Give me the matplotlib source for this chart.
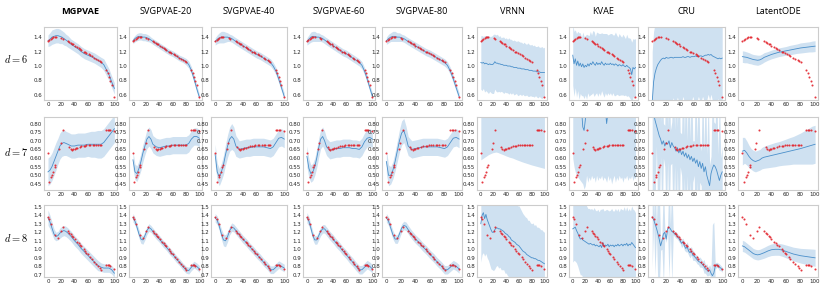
import matplotlib
matplotlib.use("Agg")
import matplotlib.pyplot as plt
import numpy as np

plt.rcParams['mathtext.fontset'] = 'cm'

# ---------------- data ----------------
models = ["MGPVAE", "SVGPVAE-20", "SVGPVAE-40", "SVGPVAE-60", "SVGPVAE-80",
          "VRNN", "KVAE", "CRU", "LatentODE"]
row_labels = ["$d=6$", "$d=7$", "$d=8$"]
x_ticks = [0, 20, 40, 60, 80, 100]
y_ticks = [[0.6, 0.8, 1.0, 1.2, 1.4],
           [0.45, 0.50, 0.55, 0.60, 0.65, 0.70, 0.75, 0.80],
           [0.7, 0.8, 0.9, 1.0, 1.1, 1.2, 1.3, 1.4, 1.5]]
y_tick_labels = [["0.6", "0.8", "1.0", "1.2", "1.4"],
                 ["0.45", "0.50", "0.55", "0.60", "0.65", "0.70", "0.75", "0.80"],
                 ["0.7", "0.8", "0.9", "1.0", "1.1", "1.2", "1.3", "1.4", "1.5"]]

# ground truth (red points)
truth6_x = [0, 2, 4, 6, 8, 10, 12, 20, 22, 30, 32, 34, 36, 38, 40, 44, 46, 48, 50, 54, 56, 58,
            62, 64, 66, 70, 72, 76, 78, 80, 88, 90, 92, 94, 96, 100]
truth6_y = [1.35, 1.36, 1.38, 1.39, 1.40, 1.40, 1.40, 1.39, 1.38, 1.34, 1.33, 1.32, 1.31, 1.30,
            1.28, 1.26, 1.25, 1.24, 1.22, 1.20, 1.19, 1.18, 1.16, 1.15, 1.14, 1.11, 1.10, 1.08,
            1.07, 1.06, 0.95, 0.91, 0.85, 0.79, 0.74, 0.57]
truth7_x = [0, 2, 5, 6, 8, 10, 11, 17, 19, 23, 32, 34, 36, 38, 40, 42, 44, 48, 50, 54, 56, 58,
            62, 64, 68, 70, 72, 76, 78, 80, 88, 90, 92, 94, 100]
truth7_y = [0.63, 0.46, 0.49, 0.50, 0.52, 0.55, 0.56, 0.65, 0.685, 0.76, 0.665, 0.65, 0.648,
            0.65, 0.655, 0.658, 0.66, 0.665, 0.668, 0.67, 0.672, 0.674, 0.675, 0.676, 0.677,
            0.677, 0.676, 0.675, 0.674, 0.673, 0.76, 0.765, 0.765, 0.762, 0.755]
truth8_x = [0, 2, 5, 10, 15, 20, 23, 30, 32, 34, 36, 38, 40, 44, 46, 48, 50, 54, 56, 58, 60,
            64, 66, 70, 72, 76, 78, 80, 88, 90, 92, 94, 100]
truth8_y = [1.38, 1.36, 1.30, 1.17, 1.13, 1.21, 1.26, 1.21, 1.19, 1.18, 1.16, 1.14, 1.12, 1.09,
            1.07, 1.05, 1.04, 1.00, 0.98, 0.96, 0.94, 0.91, 0.89, 0.85, 0.83, 0.80, 0.78, 0.76,
            0.82, 0.82, 0.81, 0.80, 0.77]

# x grids for model predictions
grid_smooth = [0, 3, 6, 9, 12, 15, 18, 21, 24, 27, 30, 35, 40, 45, 50, 55, 60, 65, 70, 75, 80,
               84, 88, 92, 96, 100]
grid_noisy = list(range(0, 101, 2))

# ---- d = 6 ----
mgp6_mean = [1.35, 1.37, 1.40, 1.41, 1.42, 1.42, 1.41, 1.40, 1.38, 1.36, 1.34, 1.30, 1.27, 1.24,
             1.20, 1.17, 1.15, 1.13, 1.11, 1.08, 1.05, 1.02, 0.95, 0.88, 0.78, 0.69]
mgp6_std = [0.08, 0.09, 0.10, 0.10, 0.10, 0.10, 0.10, 0.09, 0.09, 0.08, 0.08, 0.07, 0.07, 0.07,
            0.07, 0.07, 0.07, 0.07, 0.07, 0.07, 0.07, 0.08, 0.08, 0.08, 0.08, 0.08]
svg20_6_mean = [1.35, 1.38, 1.40, 1.41, 1.41, 1.40, 1.40, 1.39, 1.38, 1.36, 1.34, 1.31, 1.28,
                1.25, 1.22, 1.19, 1.17, 1.14, 1.11, 1.09, 1.06, 1.02, 0.94, 0.82, 0.69, 0.57]
svg20_6_std = [0.04, 0.045, 0.05, 0.05, 0.05, 0.05, 0.05, 0.05, 0.045, 0.04, 0.04, 0.04, 0.04,
               0.04, 0.04, 0.04, 0.04, 0.04, 0.04, 0.04, 0.045, 0.05, 0.05, 0.05, 0.05, 0.04]
svg40_6_mean = [1.34, 1.37, 1.39, 1.40, 1.40, 1.40, 1.40, 1.39, 1.38, 1.36, 1.34, 1.31, 1.28,
                1.25, 1.22, 1.19, 1.16, 1.14, 1.11, 1.08, 1.05, 1.00, 0.93, 0.82, 0.70, 0.58]
svg40_6_std = [0.05, 0.06, 0.07, 0.08, 0.08, 0.07, 0.06, 0.05, 0.05, 0.05, 0.05, 0.05, 0.05,
               0.05, 0.05, 0.05, 0.05, 0.05, 0.05, 0.05, 0.05, 0.05, 0.05, 0.05, 0.05, 0.05]
svg60_6_mean = [1.34, 1.37, 1.40, 1.41, 1.41, 1.40, 1.40, 1.39, 1.38, 1.36, 1.34, 1.31, 1.28,
                1.25, 1.22, 1.19, 1.17, 1.14, 1.11, 1.08, 1.05, 1.01, 0.93, 0.82, 0.70, 0.58]
svg60_6_std = [0.05, 0.06, 0.07, 0.07, 0.07, 0.06, 0.06, 0.05, 0.05, 0.05, 0.05, 0.05, 0.05,
               0.05, 0.05, 0.05, 0.05, 0.05, 0.05, 0.05, 0.05, 0.05, 0.05, 0.05, 0.05, 0.05]
svg80_6_mean = [1.35, 1.38, 1.40, 1.41, 1.41, 1.40, 1.40, 1.39, 1.38, 1.36, 1.34, 1.31, 1.28,
                1.25, 1.22, 1.19, 1.17, 1.14, 1.11, 1.08, 1.05, 1.01, 0.93, 0.82, 0.70, 0.58]
svg80_6_std = [0.05, 0.06, 0.06, 0.07, 0.07, 0.06, 0.06, 0.05, 0.05, 0.05, 0.05, 0.05, 0.05,
               0.05, 0.05, 0.05, 0.05, 0.05, 0.05, 0.05, 0.05, 0.05, 0.05, 0.05, 0.05, 0.05]
vrnn6_mean = [1.05, 1.04, 1.05, 1.03, 1.04, 1.03, 1.02, 1.03, 1.02, 1.02, 1.03, 1.06, 1.04, 1.04,
              1.03, 1.03, 1.02, 1.02, 1.01, 1.01, 1.01, 1.00, 1.00, 1.00, 0.99, 0.99, 0.98, 0.98,
              0.98, 0.97, 0.97, 0.97, 0.96, 0.96, 0.96, 0.95, 0.95, 0.95, 0.94, 0.94, 0.94, 0.93,
              0.93, 0.93, 0.92, 0.92, 0.92, 0.91, 0.91, 0.91, 0.91]
vrnn6_std = [0.37, 0.38, 0.36, 0.39, 0.38, 0.39, 0.40, 0.38, 0.39, 0.40, 0.41, 0.38, 0.39, 0.40,
             0.38, 0.39, 0.37, 0.38, 0.39, 0.37, 0.38, 0.37, 0.39, 0.37, 0.38, 0.36, 0.38, 0.37,
             0.36, 0.38, 0.37, 0.36, 0.37, 0.35, 0.37, 0.36, 0.35, 0.37, 0.36, 0.35, 0.36, 0.35,
             0.36, 0.34, 0.35, 0.36, 0.34, 0.35, 0.36, 0.34, 0.35]
kvae6_mean = [1.15, 1.03, 1.10, 1.01, 1.07, 1.00, 1.04, 0.99, 1.03, 0.98, 1.01, 0.99, 1.03, 1.00,
              1.04, 1.02, 1.06, 1.03, 1.01, 1.05, 1.02, 1.04, 1.02, 1.06, 1.03, 1.01, 1.04, 1.02,
              1.03, 1.02, 1.04, 1.02, 1.03, 1.01, 1.03, 1.02, 1.00, 1.02, 1.01, 1.00, 1.02, 1.00,
              0.99, 1.01, 0.99, 0.98, 0.96, 0.88, 0.98, 0.96, 0.98]
kvae6_std = [0.42, 0.45, 0.40, 0.44, 0.41, 0.46, 0.42, 0.40, 0.44, 0.43, 0.41, 0.45, 0.40, 0.42,
             0.44, 0.41, 0.43, 0.45, 0.40, 0.42, 0.44, 0.41, 0.43, 0.40, 0.42, 0.44, 0.41, 0.43,
             0.40, 0.42, 0.41, 0.43, 0.40, 0.42, 0.44, 0.41, 0.40, 0.43, 0.41, 0.40, 0.42, 0.41,
             0.39, 0.43, 0.40, 0.41, 0.42, 0.45, 0.40, 0.41, 0.40]
cru6_mean = [0.50, 0.78, 0.90, 0.97, 1.02, 1.05, 1.08, 1.10, 1.11, 1.10, 1.12, 1.11, 1.11, 1.12,
             1.12, 1.11, 1.12, 1.12, 1.12, 1.12, 1.12, 1.12, 1.13, 1.12, 1.12, 1.13, 1.13, 1.12,
             1.13, 1.13, 1.13, 1.14, 1.13, 1.13, 1.14, 1.14, 1.13, 1.14, 1.15, 1.15, 1.16, 1.15,
             1.16, 1.14, 1.13, 1.12, 1.11, 1.10, 1.11, 1.10, 1.11]
cru6_std = [0.70, 0.70, 0.68, 0.66, 0.64, 0.63, 0.62, 0.62, 0.62, 0.62, 0.62, 0.62, 0.62, 0.62,
            0.62, 0.55, 0.62, 0.62, 0.55, 0.62, 0.62, 0.62, 0.55, 0.62, 0.62, 0.62, 0.62, 0.62,
            0.62, 0.55, 0.62, 0.62, 0.62, 0.55, 0.62, 0.62, 0.55, 0.62, 0.62, 0.62, 0.55, 0.62,
            0.55, 0.62, 0.62, 0.62, 0.62, 0.55, 0.62, 0.62, 0.62]
lode6_mean = [1.13, 1.125, 1.12, 1.11, 1.10, 1.09, 1.085, 1.08, 1.085, 1.10, 1.12, 1.14, 1.16,
              1.175, 1.19, 1.20, 1.21, 1.22, 1.23, 1.24, 1.25, 1.255, 1.26, 1.265, 1.27, 1.275]
lode6_std = [0.08, 0.08, 0.075, 0.075, 0.07, 0.07, 0.07, 0.07, 0.065, 0.065, 0.065, 0.06, 0.06,
             0.06, 0.06, 0.06, 0.06, 0.065, 0.065, 0.065, 0.07, 0.07, 0.07, 0.07, 0.075, 0.075]

# ---- d = 7 ----
mgp7_mean = [0.52, 0.53, 0.55, 0.58, 0.61, 0.64, 0.67, 0.685, 0.69, 0.685, 0.68, 0.67, 0.67,
             0.675, 0.675, 0.675, 0.68, 0.68, 0.68, 0.68, 0.68, 0.69, 0.71, 0.73, 0.75, 0.77]
mgp7_std = [0.08, 0.08, 0.08, 0.08, 0.08, 0.075, 0.075, 0.075, 0.075, 0.07, 0.07, 0.07, 0.07,
            0.07, 0.07, 0.07, 0.07, 0.075, 0.075, 0.08, 0.08, 0.08, 0.08, 0.08, 0.08, 0.08]
svg20_7_mean = [0.59, 0.52, 0.51, 0.54, 0.58, 0.63, 0.67, 0.71, 0.725, 0.71, 0.68, 0.665, 0.66,
                0.665, 0.67, 0.67, 0.675, 0.675, 0.675, 0.675, 0.675, 0.685, 0.71, 0.725, 0.725,
                0.715]
svg20_7_std = [0.05, 0.045, 0.045, 0.045, 0.05, 0.05, 0.05, 0.055, 0.055, 0.055, 0.05, 0.05,
               0.05, 0.05, 0.05, 0.05, 0.05, 0.05, 0.05, 0.05, 0.05, 0.05, 0.05, 0.05, 0.05, 0.05]
svg40_7_mean = [0.62, 0.52, 0.49, 0.52, 0.56, 0.62, 0.67, 0.71, 0.725, 0.71, 0.67, 0.65, 0.655,
                0.66, 0.66, 0.665, 0.665, 0.665, 0.665, 0.66, 0.655, 0.665, 0.69, 0.715, 0.72,
                0.71]
svg40_7_std = [0.06, 0.05, 0.05, 0.05, 0.055, 0.06, 0.065, 0.07, 0.075, 0.07, 0.06, 0.05, 0.05,
               0.05, 0.05, 0.05, 0.05, 0.05, 0.05, 0.05, 0.05, 0.05, 0.05, 0.05, 0.05, 0.05]
svg60_7_mean = [0.61, 0.54, 0.51, 0.52, 0.55, 0.60, 0.66, 0.71, 0.725, 0.70, 0.665, 0.645,
                0.65, 0.655, 0.655, 0.66, 0.66, 0.66, 0.655, 0.655, 0.65, 0.665, 0.695, 0.715,
                0.72, 0.71]
svg60_7_std = [0.06, 0.055, 0.05, 0.05, 0.05, 0.055, 0.055, 0.055, 0.055, 0.055, 0.05, 0.05,
               0.05, 0.05, 0.05, 0.05, 0.05, 0.05, 0.05, 0.05, 0.05, 0.05, 0.05, 0.05, 0.05, 0.05]
svg80_7_mean = [0.58, 0.50, 0.50, 0.53, 0.58, 0.64, 0.70, 0.745, 0.76, 0.72, 0.67, 0.65, 0.655,
                0.66, 0.665, 0.665, 0.665, 0.665, 0.665, 0.66, 0.655, 0.665, 0.69, 0.715, 0.72,
                0.71]
svg80_7_std = [0.07, 0.06, 0.05, 0.05, 0.055, 0.06, 0.065, 0.07, 0.07, 0.065, 0.055, 0.05, 0.05,
               0.05, 0.05, 0.05, 0.05, 0.05, 0.05, 0.05, 0.05, 0.05, 0.05, 0.05, 0.05, 0.05]
vrnn7_mean = [0.95, 0.95, 0.96, 0.96, 0.95, 0.96, 0.96, 0.97, 0.97, 0.96, 0.96, 0.96, 0.95,
              0.95, 0.95, 0.94, 0.94, 0.94, 0.93, 0.93, 0.93, 0.92, 0.92, 0.92, 0.92, 0.91]
vrnn7_std = [0.36, 0.353, 0.355, 0.348, 0.33, 0.335, 0.33, 0.337, 0.335, 0.328, 0.333, 0.34,
             0.338, 0.345, 0.35, 0.348, 0.355, 0.362, 0.358, 0.364, 0.37, 0.364, 0.368, 0.372,
             0.376, 0.37]
kvae7_mean = [0.93, 0.92, 0.94, 0.91, 0.93, 0.92, 0.90, 0.88, 0.78, 0.76, 0.82, 0.90, 0.92, 0.91,
              0.93, 0.92, 0.91, 0.93, 0.92, 0.90, 0.92, 0.93, 0.91, 0.92, 0.90, 0.91, 0.88, 0.80,
              0.86, 0.91, 0.92, 0.91, 0.93, 0.92, 0.90, 0.92, 0.93, 0.91, 0.92, 0.90, 0.92, 0.93,
              0.91, 0.92, 0.90, 0.92, 0.93, 0.91, 0.92, 0.90, 0.92]
kvae7_std = [0.33, 0.37, 0.42, 0.41, 0.44, 0.44, 0.43, 0.42, 0.33, 0.34, 0.38, 0.40, 0.46, 0.42,
             0.46, 0.42, 0.43, 0.44, 0.46, 0.40, 0.45, 0.44, 0.43, 0.42, 0.43, 0.42, 0.40, 0.34,
             0.36, 0.44, 0.43, 0.46, 0.45, 0.42, 0.44, 0.43, 0.46, 0.41, 0.44, 0.41, 0.46, 0.44,
             0.43, 0.42, 0.43, 0.43, 0.45, 0.41, 0.45, 0.41, 0.44]
cru7_mean = [0.88, 0.86, 0.82, 0.79, 0.76, 0.73, 0.71, 0.68, 0.70, 0.67, 0.69, 0.68, 0.70, 0.66,
             0.69, 0.67, 0.66, 0.64, 0.66, 0.63, 0.65, 0.62, 0.64, 0.61, 0.63, 0.60, 0.62, 0.59,
             0.61, 0.58, 0.60, 0.57, 0.59, 0.55, 0.58, 0.54, 0.57, 0.52, 0.55, 0.50, 0.47, 0.44,
             0.51, 0.54, 0.56, 0.55, 0.53, 0.50, 0.47, 0.50, 0.52]
cru7_std = [0.50, 0.50, 0.50, 0.12, 0.50, 0.50, 0.10, 0.50, 0.10, 0.12, 0.50, 0.10, 0.50, 0.10,
            0.12, 0.50, 0.10, 0.50, 0.12, 0.50, 0.10, 0.12, 0.50, 0.12, 0.50, 0.10, 0.50, 0.12,
            0.50, 0.12, 0.10, 0.50, 0.12, 0.50, 0.12, 0.10, 0.50, 0.12, 0.50, 0.12, 0.50, 0.12,
            0.10, 0.50, 0.25, 0.25, 0.50, 0.12, 0.50, 0.10, 0.15]
lode7_mean = [0.64, 0.645, 0.63, 0.61, 0.595, 0.585, 0.58, 0.585, 0.59, 0.60, 0.605, 0.61, 0.615,
              0.62, 0.625, 0.63, 0.635, 0.64, 0.645, 0.65, 0.655, 0.66, 0.665, 0.67, 0.675, 0.68]
lode7_std = [0.08, 0.075, 0.07, 0.065, 0.06, 0.06, 0.06, 0.06, 0.06, 0.062, 0.064, 0.066, 0.068,
             0.07, 0.07, 0.072, 0.075, 0.078, 0.08, 0.085, 0.09, 0.095, 0.10, 0.105, 0.11, 0.11]

# ---- d = 8 ----
mgp8_mean = [1.37, 1.32, 1.25, 1.18, 1.15, 1.16, 1.19, 1.21, 1.22, 1.21, 1.19, 1.15, 1.10, 1.06,
             1.01, 0.97, 0.93, 0.89, 0.85, 0.81, 0.79, 0.78, 0.78, 0.78, 0.76, 0.72]
mgp8_std = [0.09, 0.08, 0.07, 0.06, 0.05, 0.05, 0.06, 0.06, 0.06, 0.06, 0.06, 0.06, 0.06, 0.06,
            0.06, 0.06, 0.06, 0.06, 0.06, 0.06, 0.05, 0.05, 0.05, 0.05, 0.05, 0.05]
svg20_8_mean = [1.37, 1.33, 1.26, 1.18, 1.12, 1.11, 1.16, 1.22, 1.255, 1.24, 1.21, 1.16, 1.12,
                1.07, 1.03, 0.98, 0.94, 0.89, 0.85, 0.80, 0.76, 0.75, 0.79, 0.82, 0.80, 0.77]
svg20_8_std = [0.05, 0.045, 0.045, 0.05, 0.05, 0.05, 0.05, 0.045, 0.045, 0.04, 0.04, 0.04,
               0.04, 0.04, 0.04, 0.04, 0.04, 0.04, 0.04, 0.04, 0.04, 0.04, 0.04, 0.04, 0.04, 0.04]
svg40_8_mean = [1.37, 1.34, 1.27, 1.18, 1.11, 1.10, 1.15, 1.22, 1.26, 1.25, 1.22, 1.17, 1.12,
                1.08, 1.03, 0.99, 0.94, 0.90, 0.85, 0.81, 0.76, 0.76, 0.79, 0.82, 0.80, 0.78]
svg40_8_std = [0.05, 0.05, 0.05, 0.06, 0.07, 0.07, 0.06, 0.05, 0.05, 0.045, 0.045, 0.045,
               0.045, 0.045, 0.045, 0.045, 0.045, 0.045, 0.045, 0.045, 0.045, 0.045, 0.045,
               0.045, 0.045, 0.045]
svg60_8_mean = [1.37, 1.33, 1.25, 1.16, 1.11, 1.11, 1.16, 1.21, 1.24, 1.24, 1.21, 1.16, 1.12,
                1.07, 1.03, 0.98, 0.94, 0.89, 0.85, 0.80, 0.76, 0.76, 0.79, 0.82, 0.80, 0.77]
svg60_8_std = [0.06, 0.055, 0.05, 0.05, 0.05, 0.05, 0.05, 0.05, 0.05, 0.05, 0.05, 0.05, 0.05,
               0.05, 0.05, 0.05, 0.05, 0.05, 0.05, 0.05, 0.05, 0.05, 0.05, 0.05, 0.05, 0.05]
svg80_8_mean = [1.37, 1.33, 1.25, 1.17, 1.12, 1.12, 1.18, 1.25, 1.28, 1.27, 1.23, 1.17, 1.12,
                1.08, 1.03, 0.99, 0.94, 0.90, 0.85, 0.81, 0.76, 0.76, 0.79, 0.82, 0.80, 0.77]
svg80_8_std = [0.05, 0.05, 0.05, 0.05, 0.05, 0.05, 0.05, 0.05, 0.05, 0.05, 0.05, 0.05, 0.05,
               0.05, 0.05, 0.05, 0.05, 0.05, 0.05, 0.05, 0.05, 0.05, 0.05, 0.05, 0.05, 0.05]
vrnn8_mean = [1.30, 1.40, 1.43, 1.36, 1.41, 1.35, 1.31, 1.27, 1.23, 1.20, 1.20, 1.23, 1.25, 1.25,
              1.24, 1.24, 1.23, 1.22, 1.21, 1.19, 1.18, 1.17, 1.15, 1.14, 1.11, 1.10, 1.09, 1.08,
              1.06, 1.05, 1.04, 1.02, 1.00, 0.98, 0.97, 0.96, 0.94, 0.93, 0.92, 0.91, 0.90, 0.90,
              0.89, 0.89, 0.88, 0.87, 0.87, 0.86, 0.85, 0.84, 0.83]
vrnn8_std = [0.45, 0.46, 0.47, 0.44, 0.46, 0.45, 0.44, 0.45, 0.46, 0.44, 0.45, 0.46, 0.45, 0.44,
             0.46, 0.45, 0.47, 0.46, 0.45, 0.47, 0.46, 0.48, 0.47, 0.46, 0.48, 0.47, 0.46, 0.48,
             0.47, 0.46, 0.47, 0.46, 0.45, 0.44, 0.43, 0.42, 0.43, 0.41, 0.42, 0.40, 0.40, 0.41,
             0.39, 0.40, 0.38, 0.39, 0.38, 0.37, 0.38, 0.37, 0.37]
kvae8_mean = [1.24, 1.25, 1.26, 1.22, 1.19, 1.15, 1.12, 1.13, 1.11, 1.10, 1.09, 1.08, 1.07, 1.06,
              1.07, 1.06, 1.05, 1.06, 1.04, 1.05, 1.04, 1.03, 1.05, 1.02, 1.08, 1.03, 1.05, 1.04,
              1.06, 1.03, 1.05, 1.04, 1.05, 1.03, 1.05, 1.04, 1.06, 1.04, 1.05, 1.06, 1.04, 1.06,
              1.05, 1.07, 1.04, 1.06, 1.05, 1.08, 1.06, 1.04, 1.02]
kvae8_std = [0.39, 0.38, 0.40, 0.38, 0.39, 0.40, 0.42, 0.43, 0.44, 0.45, 0.44, 0.43, 0.41, 0.42,
             0.40, 0.42, 0.41, 0.43, 0.42, 0.40, 0.43, 0.41, 0.42, 0.45, 0.40, 0.42, 0.41, 0.43,
             0.40, 0.42, 0.41, 0.44, 0.40, 0.42, 0.43, 0.41, 0.42, 0.40, 0.43, 0.41, 0.42, 0.44,
             0.40, 0.43, 0.41, 0.42, 0.40, 0.43, 0.41, 0.42, 0.41]
cru8_mean = [1.38, 1.35, 1.30, 1.25, 1.19, 1.12, 1.04, 1.10, 1.18, 1.20, 1.12, 1.24, 1.26, 1.24,
             1.21, 1.20, 1.18, 1.17, 1.15, 1.13, 1.10, 1.07, 1.09, 1.04, 1.01, 1.03, 0.98, 0.96,
             0.98, 0.93, 0.92, 0.90, 0.88, 0.86, 0.85, 0.84, 0.82, 0.80, 0.77, 0.76, 0.74, 0.76,
             0.72, 0.69, 0.72, 0.80, 0.82, 0.81, 0.79, 0.78, 0.76]
cru8_std = [0.60, 0.05, 0.60, 0.04, 0.60, 0.60, 0.05, 0.10, 0.60, 0.05, 0.04, 0.04, 0.60, 0.05,
            0.60, 0.03, 0.03, 0.04, 0.03, 0.04, 0.03, 0.05, 0.04, 0.05, 0.04, 0.06, 0.05, 0.06,
            0.05, 0.06, 0.05, 0.04, 0.05, 0.04, 0.06, 0.05, 0.04, 0.08, 0.05, 0.07, 0.05, 0.06,
            0.05, 0.60, 0.60, 0.04, 0.03, 0.03, 0.04, 0.03, 0.03]
lode8_mean = [1.04, 1.03, 1.01, 0.99, 0.97, 0.95, 0.94, 0.935, 0.94, 0.95, 0.96, 0.98, 0.995,
              1.00, 1.00, 0.99, 0.975, 0.96, 0.945, 0.935, 0.925, 0.92, 0.915, 0.91, 0.905, 0.90]
lode8_std = [0.065, 0.064, 0.063, 0.062, 0.061, 0.06, 0.06, 0.06, 0.06, 0.062, 0.064, 0.066,
             0.068, 0.07, 0.07, 0.072, 0.075, 0.078, 0.08, 0.083, 0.086, 0.089, 0.092, 0.095,
             0.098, 0.10]

# ---------------- assemble ----------------
S, N = grid_smooth, grid_noisy
panels = [
    [(S, mgp6_mean, mgp6_std), (S, svg20_6_mean, svg20_6_std), (S, svg40_6_mean, svg40_6_std),
     (S, svg60_6_mean, svg60_6_std), (S, svg80_6_mean, svg80_6_std), (N, vrnn6_mean, vrnn6_std),
     (N, kvae6_mean, kvae6_std), (N, cru6_mean, cru6_std), (S, lode6_mean, lode6_std)],
    [(S, mgp7_mean, mgp7_std), (S, svg20_7_mean, svg20_7_std), (S, svg40_7_mean, svg40_7_std),
     (S, svg60_7_mean, svg60_7_std), (S, svg80_7_mean, svg80_7_std), (S, vrnn7_mean, vrnn7_std),
     (N, kvae7_mean, kvae7_std), (N, cru7_mean, cru7_std), (S, lode7_mean, lode7_std)],
    [(S, mgp8_mean, mgp8_std), (S, svg20_8_mean, svg20_8_std), (S, svg40_8_mean, svg40_8_std),
     (S, svg60_8_mean, svg60_8_std), (S, svg80_8_mean, svg80_8_std), (N, vrnn8_mean, vrnn8_std),
     (N, kvae8_mean, kvae8_std), (N, cru8_mean, cru8_std), (S, lode8_mean, lode8_std)],
]
truths = [(truth6_x, truth6_y), (truth7_x, truth7_y), (truth8_x, truth8_y)]
ylims = [(0.53, 1.54), (0.415, 0.838), (0.675, 1.52)]

# ---------------- layout ----------------
W, H = 830, 293
fig = plt.figure(figsize=(W / 100, H / 100), dpi=100)
col_left = [44, 129, 211, 303, 382, 477, 569, 648, 738]
col_right = [117, 202, 287, 375, 462, 547, 638, 725, 818]
row_tb = [(27, 100), (117, 190), (205, 277)]
row_label_y = [59, 152, 238]

band_c = '#cfe1f1'
line_c = '#4a8fca'
red_c = '#e3232c'
spine_c = '#cccccc'

for r in range(3):
    t, b = row_tb[r]
    for c in range(9):
        l, rr = col_left[c], col_right[c]
        ax = fig.add_axes([l / W, 1 - b / H, (rr - l) / W, (b - t) / H])
        xg, m, s = panels[r][c]
        xg = np.asarray(xg, float)
        m = np.asarray(m, float)
        s = np.asarray(s, float)
        ax.fill_between(xg, m - s, m + s, color=band_c, lw=0, zorder=1)
        ax.plot(xg, m, color=line_c, lw=0.6, zorder=2)
        tx, ty = truths[r]
        ax.scatter(tx, ty, s=2.2, color=red_c, lw=0, zorder=3, alpha=0.9)
        ax.set_xlim(-6, 104)
        ax.set_ylim(*ylims[r])
        ax.set_xticks(x_ticks)
        ax.set_xticklabels([str(v) for v in x_ticks])
        ax.set_yticks(y_ticks[r])
        ax.set_yticklabels(y_tick_labels[r])
        ax.tick_params(length=0, pad=1.2, labelsize=4.0, colors='#222222')
        for sp in ax.spines.values():
            sp.set_color(spine_c)
            sp.set_linewidth(0.8)
        if r == 0:
            fig.text((l + rr) / 2 / W, 1 - 12 / H, models[c], ha='center', va='center',
                     fontsize=6.6, family='Open Sans',
                     fontweight='bold' if c == 0 else 'normal')
    fig.text(16 / W, 1 - row_label_y[r] / H, row_labels[r], ha='center', va='center',
             fontsize=7.5)

fig.savefig('out.png', dpi=100)
